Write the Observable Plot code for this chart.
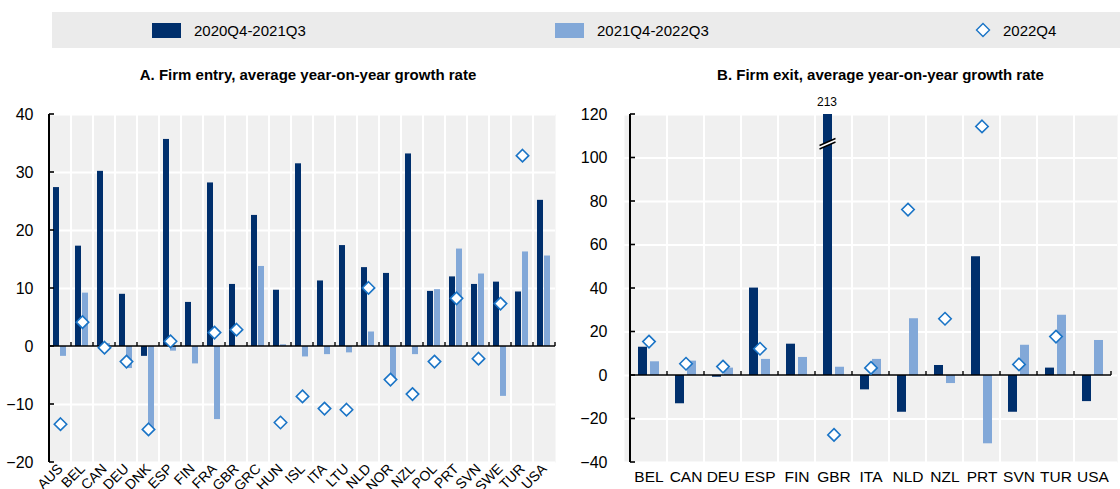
<!DOCTYPE html>
<html>
<head>
<meta charset="utf-8">
<script src="https://cdn.jsdelivr.net/npm/d3@7"></script>
<script src="https://cdn.jsdelivr.net/npm/@observablehq/plot@0.6"></script>
<style>
  html, body { margin: 0; padding: 0; background: #fff; }
  body { width: 1120px; height: 489px; position: relative; overflow: hidden;
         font-family: "Liberation Sans", Arial, sans-serif; color: #000; }
  #legend { position: absolute; left: 52px; top: 12px; width: 1068px; height: 36px; background: #ebebeb; }
  .lg { position: absolute; top: 0; height: 36px; display: flex; align-items: center; font-size: 15px; }
  .sw { display: inline-block; width: 29px; height: 15px; margin-right: 13px; }
  .title { position: absolute; top: 66px; font-weight: bold; font-size: 15px; text-align: center; }
  .panel { position: absolute; top: 100px; }
</style>
</head>
<body>
<div id="legend"></div>
<div id="titleA" class="title"></div>
<div id="titleB" class="title"></div>
<div id="panelA" class="panel" style="left:0px"></div>
<div id="panelB" class="panel" style="left:560px"></div>
<script>
// ---------- DATA ----------
const seriesLabels = ["2020Q4-2021Q3", "2021Q4-2022Q3", "2022Q4"];
const panelTitles = ["A. Firm entry, average year-on-year growth rate", "B. Firm exit, average year-on-year growth rate"];

const entryCountries = ["AUS","BEL","CAN","DEU","DNK","ESP","FIN","FRA","GBR","GRC","HUN","ISL","ITA","LTU","NLD","NOR","NZL","POL","PRT","SVN","SWE","TUR","USA"];
const entryFirst  = [27.4, 17.3, 30.2, 9.0, -1.7, 35.7, 7.6, 28.2, 10.7, 22.6, 9.7, 31.5, 11.3, 17.4, 13.6, 12.6, 33.2, 9.5, 12.0, 10.7, 11.1, 9.4, 25.2];
const entrySecond = [-1.7, 9.2, 0.5, -3.8, -14.5, -0.8, -3.0, -12.6, null, 13.8, 0.3, -1.8, -1.4, -1.1, 2.5, -5.6, -1.4, 9.8, 16.8, 12.5, -8.6, 16.3, 15.6];
const entryQ4     = [-13.4, 4.2, -0.2, -2.6, -14.3, 0.9, null, 2.4, 2.9, null, -13.1, -8.6, -10.7, -10.9, 10.1, -5.7, -8.2, -2.6, 8.3, -2.1, 7.4, 32.9, null];
const entryTicks  = [-20, -10, 0, 10, 20, 30, 40];

const exitCountries = ["BEL","CAN","DEU","ESP","FIN","GBR","ITA","NLD","NZL","PRT","SVN","TUR","USA"];
const exitFirst  = [13.0, -13.0, -0.8, 40.2, 14.4, 213, -6.6, -16.9, 4.6, 54.6, -16.9, 3.4, -12.0];
const exitSecond = [6.3, 6.6, 3.4, 7.4, 8.3, 3.8, 7.4, 26.1, -3.7, -31.4, 13.9, 27.7, 16.1];
const exitQ4     = [15.6, 5.4, 4.1, 12.3, null, -27.3, 3.5, 76.3, 26.1, 114.5, 5.1, 17.9, null];
const exitTicks  = [-40, -20, 0, 20, 40, 60, 80, 100, 120];

// ---------- STYLE ----------
const DARK = "#002F6C", LIGHT = "#82A8D8", DIAM = "#1A74C6";
const FONT = '"Liberation Sans", Arial, sans-serif';

// ---------- LEGEND & TITLES ----------
const legend = document.getElementById("legend");
legend.innerHTML = `
  <div class="lg" style="left:100px"><span class="sw" style="background:${DARK}"></span>${seriesLabels[0]}</div>
  <div class="lg" style="left:503px"><span class="sw" style="background:${LIGHT}"></span>${seriesLabels[1]}</div>
  <div class="lg" style="left:923px"><svg width="16" height="16" style="margin-right:12px"><polygon points="8,1.5 14.5,8 8,14.5 1.5,8" fill="white" stroke="${DIAM}" stroke-width="1.4"/></svg>${seriesLabels[2]}</div>`;

function setTitle(id, text, left, width) {
  const el = document.getElementById(id);
  el.textContent = text;
  el.style.left = left + "px";
  el.style.width = width + "px";
}
setTitle("titleA", panelTitles[0], 55, 506);
setTitle("titleB", panelTitles[1], 634, 493);

// ---------- PANELS ----------
function panel({countries, first, second, q4, ticks, marginLeft, marginRight, rotate, insA, insB, fontX, tickPad}) {
  const rows = countries.map((c, i) => ({country: c, a: first[i], b: second[i], c: q4[i]}));
  const W = 560, H = 389, mt = 14, mb = 27;
  const ymin = ticks[0], ymax = ticks[ticks.length - 1];

  const background = (index, scales) => {
    const g = d3.create("svg:g");
    countries.slice(1).forEach(c => {
      const x = scales.x(c);
      g.append("line").attr("x1", x).attr("x2", x)
        .attr("y1", scales.y(ymax)).attr("y2", scales.y(ymin))
        .attr("stroke", "white").attr("stroke-width", 2);
    });
    return g.node();
  };

  const foreground = (index, scales) => {
    const g = d3.create("svg:g");
    const x0 = scales.x(countries[0]);
    const xEnd = scales.x(countries[countries.length - 1]) + scales.x.bandwidth();
    const y0 = scales.y(0);
    g.append("line").attr("x1", x0).attr("x2", xEnd).attr("y1", y0).attr("y2", y0)
      .attr("stroke", "#000").attr("stroke-width", 1.6);
    countries.slice(1).concat([null]).forEach(c => {
      const x = c == null ? xEnd : scales.x(c);
      g.append("line").attr("x1", x).attr("x2", x).attr("y1", y0).attr("y2", y0 - 4)
        .attr("stroke", "#000").attr("stroke-width", 1.4);
    });
    g.append("line").attr("x1", x0).attr("x2", x0).attr("y1", scales.y(ymax)).attr("y2", scales.y(ymin))
      .attr("stroke", "#000").attr("stroke-width", 2);
    ticks.forEach(t => {
      g.append("line").attr("x1", x0).attr("x2", x0 + 5).attr("y1", scales.y(t)).attr("y2", scales.y(t))
        .attr("stroke", "#000").attr("stroke-width", 1.6);
    });
    rows.filter(d => d.a > ymax).forEach(d => {
      const bx = scales.x(d.country) + insA[0];
      const bwid = scales.x.bandwidth() - insA[0] - insA[1];
      const cx = bx + bwid / 2;
      const yb = scales.y(ymax) + 28;
      const dxh = 8, slope = 3.5, gap = 3.5;
      g.append("polygon")
        .attr("points", `${cx-dxh},${yb+slope} ${cx+dxh},${yb-slope} ${cx+dxh},${yb-slope+gap} ${cx-dxh},${yb+slope+gap}`)
        .attr("fill", "white");
      [0, gap].forEach(o => {
        g.append("line").attr("x1", cx - dxh).attr("y1", yb + slope + o).attr("x2", cx + dxh).attr("y2", yb - slope + o)
          .attr("stroke", "#000").attr("stroke-width", 1.4);
      });
    });
    return g.node();
  };

  const overflow = rows.filter(d => d.a > ymax);

  return Plot.plot({
    width: W, height: H,
    marginLeft, marginRight, marginTop: mt, marginBottom: mb,
    style: {fontFamily: FONT, fontSize: "15px", color: "#000", background: "transparent", overflow: "visible"},
    x: {domain: countries, padding: 0, label: null},
    y: {domain: [ymin, ymax], ticks, label: null},
    marks: [
      Plot.frame({fill: "#f0f0f0", stroke: null}),
      Plot.gridY(ticks, {stroke: "white", strokeOpacity: 1, strokeWidth: 2}),
      background,
      Plot.barY(rows.filter(d => d.a != null), {x: "country", y: "a", fill: DARK, insetLeft: insA[0], insetRight: insA[1], clip: true}),
      Plot.barY(rows.filter(d => d.b != null), {x: "country", y: "b", fill: LIGHT, insetLeft: insB[0], insetRight: insB[1]}),
      foreground,
      Plot.dot(rows.filter(d => d.c != null), {x: "country", y: "c", symbol: "diamond2", r: 5.6, fill: "white", stroke: DIAM, strokeWidth: 1.6}),
      Plot.text(overflow, {x: "country", y: () => ymax, text: d => String(d.a), dy: -12, dx: (insA[0] - insA[1]) / 2 - 1, fontSize: 12}),
      Plot.axisY(ticks, {tickSize: 0, tickPadding: tickPad, fontSize: 16}),
      Plot.axisX(rotate
        ? {tickSize: 0, tickPadding: 4, tickRotate: -45, fontSize: 14}
        : {tickSize: 0, tickPadding: 8, fontSize: fontX})
    ]
  });
}

document.getElementById("panelA").appendChild(panel({
  countries: entryCountries, first: entryFirst, second: entrySecond, q4: entryQ4,
  ticks: entryTicks, marginLeft: 49, marginRight: 5, rotate: true,
  insA: [4, 12], insB: [11, 5], fontX: 14, tickPad: 16
}));
document.getElementById("panelB").appendChild(panel({
  countries: exitCountries, first: exitFirst, second: exitSecond, q4: exitQ4,
  ticks: exitTicks, marginLeft: 64, marginRight: 3, rotate: false,
  insA: [8, 20], insB: [20, 8], fontX: 15.5, tickPad: 17
}));
</script>
</body>
</html>
